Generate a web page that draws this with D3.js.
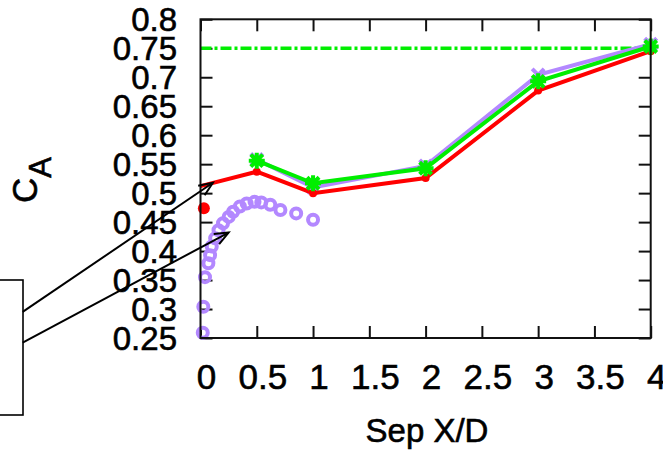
<!DOCTYPE html>
<html><head><meta charset="utf-8">
<script src="https://cdn.jsdelivr.net/npm/d3@7"></script>
<style>html,body{margin:0;padding:0;background:#fff;}svg{display:block;font-family:"Liberation Sans",Arial,sans-serif;}</style>
</head><body><svg id="c" width="663" height="450"></svg>
<script>
// ---- data ----
const xTicks = [0, 0.5, 1, 1.5, 2, 2.5, 3, 3.5, 4];
const xTickLabels = ["0","0.5","1","1.5","2","2.5","3","3.5","4"];
const yTicks = [0.25,0.3,0.35,0.4,0.45,0.5,0.55,0.6,0.65,0.7,0.75,0.8];
const yTickLabels = ["0.25","0.3","0.35","0.4","0.45","0.5","0.55","0.6","0.65","0.7","0.75","0.8"];
const lineX = [0, 0.5, 1, 2, 3, 4];
const redY = [0.512, 0.537, 0.500, 0.526, 0.677, 0.745];
const seriesX = [0.5, 1, 2, 3, 4];
const purpleY = [0.558, 0.510, 0.547, 0.704, 0.757];
const greenY = [0.556, 0.517, 0.543, 0.693, 0.753];
const redDotX = [0.03];
const redDotY = [0.474];
const circX = [0.02, 0.025, 0.04, 0.07, 0.085, 0.10, 0.13, 0.16, 0.20, 0.25, 0.29, 0.35, 0.41, 0.48, 0.54, 0.62, 0.71, 0.85, 1.0];
const circY = [0.259, 0.304, 0.355, 0.379, 0.393, 0.408, 0.422, 0.436, 0.448, 0.459, 0.468, 0.477, 0.482, 0.485, 0.484, 0.480, 0.471, 0.465, 0.454];
const refLevel = 0.75;
// arrows: tail / head in data units
const arrowTailX = [-1.58, -1.58];
const arrowTailY = [0.295, 0.242];
const arrowHeadX = [0.11, 0.25];
const arrowHeadY = [0.518, 0.432];

// ---- layout ----
const L = 200.5, R = 650.7, T = 19.3, B = 338;
const svg = d3.select("#c");
const x = d3.scaleLinear().domain([0,4]).range([L,R]);
const y = d3.scaleLinear().domain([0.25,0.8]).range([B,T]);

const tickLen = 12;
const axL = svg.append("g").attr("transform",`translate(${L},0)`)
  .call(d3.axisLeft(y).tickValues(yTicks).tickSize(-tickLen).tickFormat(""));
const axR = svg.append("g").attr("transform",`translate(${R},0)`)
  .call(d3.axisRight(y).tickValues(yTicks).tickSize(-tickLen).tickFormat(""));
const axB = svg.append("g").attr("transform",`translate(0,${B})`)
  .call(d3.axisBottom(x).tickValues(xTicks).tickSize(-tickLen).tickFormat(""));
const axT = svg.append("g").attr("transform",`translate(0,${T})`)
  .call(d3.axisTop(x).tickValues(xTicks).tickSize(-tickLen).tickFormat(""));
[axL,axR,axB,axT].forEach(a=>{
  a.select(".domain").remove();
  a.selectAll(".tick line").attr("stroke","#111").attr("stroke-width",2);
});

const txtStroke = 0.6;
svg.append("g").selectAll("text").data(yTicks).join("text")
  .attr("x", 177).attr("y", d=>y(d)).attr("dy","0.36em")
  .attr("text-anchor","end").attr("font-size",33).attr("fill","#000")
  .attr("stroke","#000").attr("stroke-width",txtStroke)
  .text((d,i)=>yTickLabels[i]);
svg.append("g").selectAll("text").data(xTicks).join("text")
  .attr("x", d=>x(d)+6).attr("y", 389)
  .attr("text-anchor","middle").attr("font-size",35).attr("fill","#000")
  .attr("stroke","#000").attr("stroke-width",txtStroke)
  .text((d,i)=>xTickLabels[i]);

svg.append("text").attr("x", 427).attr("y", 442).attr("text-anchor","middle")
  .attr("font-size",33).attr("fill","#000").attr("stroke","#000").attr("stroke-width",txtStroke)
  .text("Sep X/D");
const yl = svg.append("text").attr("transform","translate(37,203) rotate(-90)")
  .attr("font-size",35).attr("fill","#000").attr("stroke","#000").attr("stroke-width",txtStroke);
yl.append("tspan").text("C");
yl.append("tspan").attr("dy",14).attr("font-size",31).text("A");

// reference line
svg.append("line").attr("x1",x(0)).attr("x2",x(4)).attr("y1",y(refLevel)).attr("y2",y(refLevel))
  .attr("stroke","#00ee00").attr("stroke-width",3.5).attr("stroke-dasharray","11,3,3,3");

// open circles
svg.append("g").selectAll("circle").data(circX).join("circle")
  .attr("cx",d=>x(d)).attr("cy",(d,i)=>y(circY[i])).attr("r",5)
  .attr("fill","none").attr("stroke","#b388ff").attr("stroke-width",4);

const line = d3.line().x(d=>x(d[0])).y(d=>y(d[1]));
svg.append("path").datum(seriesX.map((v,i)=>[v,purpleY[i]])).attr("d",line)
  .attr("fill","none").attr("stroke","#b388ff").attr("stroke-width",4);
svg.append("g").selectAll("path").data(seriesX).join("path")
  .attr("transform",(d,i)=>`translate(${x(d)},${y(purpleY[i])})`)
  .attr("d","M-6,-6L6,6M-6,6L6,-6").attr("stroke","#b388ff").attr("stroke-width",4);
svg.append("path").datum(lineX.map((v,i)=>[v,redY[i]])).attr("d",line)
  .attr("fill","none").attr("stroke","#ff0000").attr("stroke-width",4);
svg.append("g").selectAll("circle").data(lineX.slice(1)).join("circle")
  .attr("cx",d=>x(d)).attr("cy",(d,i)=>y(redY[i+1])).attr("r",4).attr("fill","#ff0000");
svg.append("g").selectAll("circle").data(redDotX).join("circle")
  .attr("cx",d=>x(d)).attr("cy",(d,i)=>y(redDotY[i])).attr("r",6).attr("fill","#ff0000");
svg.append("path").datum(seriesX.map((v,i)=>[v,greenY[i]])).attr("d",line)
  .attr("fill","none").attr("stroke","#00ee00").attr("stroke-width",4);
const star = "M-8,0L8,0M0,-8L0,8M-6,-6L6,6M-6,6L6,-6";
svg.append("g").selectAll("path").data(seriesX).join("path")
  .attr("transform",(d,i)=>`translate(${x(d)},${y(greenY[i])})`)
  .attr("d",star).attr("stroke","#00ee00").attr("stroke-width",4).attr("fill","none");

// frame
svg.append("rect").attr("x",L).attr("y",T).attr("width",R-L).attr("height",B-T)
  .attr("fill","none").attr("stroke","#111").attr("stroke-width",2);

// legend box (empty)
svg.append("rect").attr("x",-10).attr("y",280).attr("width",33).attr("height",135)
  .attr("fill","none").attr("stroke","#000").attr("stroke-width",1.6);

// arrows
const ag = svg.append("g").attr("stroke","#000").attr("stroke-width",2).attr("fill","none");
arrowTailX.forEach((tx,i)=>{
  const x1=x(tx), y1=y(arrowTailY[i]), x2=x(arrowHeadX[i]), y2=y(arrowHeadY[i]);
  ag.append("line").attr("x1",x1).attr("y1",y1).attr("x2",x2).attr("y2",y2);
  const ang=Math.atan2(y2-y1,x2-x1), hl=15, ha=Math.PI/8;
  const p1=[x2-hl*Math.cos(ang-ha), y2-hl*Math.sin(ang-ha)];
  const p2=[x2-hl*Math.cos(ang+ha), y2-hl*Math.sin(ang+ha)];
  ag.append("path").attr("d",`M${p1}L${x2},${y2}L${p2}`);
});
</script></body></html>
